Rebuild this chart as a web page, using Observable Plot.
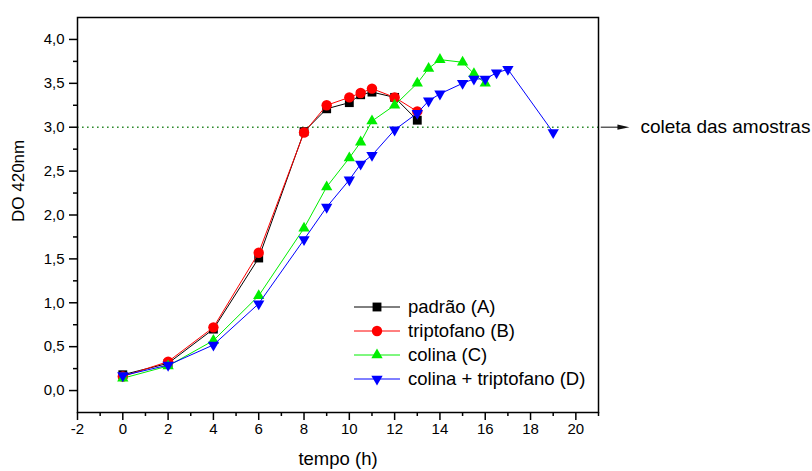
<!DOCTYPE html>
<html>
<head>
<meta charset="utf-8">
<script src="https://cdn.jsdelivr.net/npm/d3@7"></script>
<script src="https://cdn.jsdelivr.net/npm/@observablehq/plot@0.6"></script>
<style>
  html, body { margin: 0; padding: 0; background: #fff; }
  #chart { position: relative; width: 812px; height: 471px; }
</style>
</head>
<body>
<div id="chart"></div>
<script>
// ---- data ----
const seriesNames = ["padrão (A)", "triptofano (B)", "colina (C)", "colina + triptofano (D)"];
const seriesColors = ["#000000", "#ff0000", "#00ee00", "#0000ff"];

const tA = [0, 2, 4, 6, 8, 9, 10, 10.5, 11, 12, 13];
const vA = [0.18, 0.31, 0.70, 1.51, 2.95, 3.21, 3.28, 3.37, 3.40, 3.34, 3.08];

const tB = [0, 2, 4, 6, 8, 9, 10, 10.5, 11, 12, 13];
const vB = [0.16, 0.33, 0.72, 1.57, 2.94, 3.25, 3.34, 3.39, 3.44, 3.34, 3.18];

const tC = [0, 2, 4, 6, 8, 9, 10, 10.5, 11, 12, 13, 13.5, 14, 15, 15.5, 16];
const vC = [0.14, 0.28, 0.57, 1.08, 1.85, 2.32, 2.65, 2.83, 3.07, 3.25, 3.50, 3.67, 3.77, 3.74, 3.61, 3.50];

const tD = [0, 2, 4, 6, 8, 9, 10, 10.5, 11, 12, 13, 13.5, 14, 15, 15.5, 16, 16.5, 17, 19];
const vD = [0.17, 0.29, 0.52, 0.99, 1.72, 2.09, 2.40, 2.58, 2.68, 2.97, 3.16, 3.30, 3.38, 3.50, 3.55, 3.55, 3.62, 3.66, 2.94];

const xDomain = [-2, 21];
const yDomain = [-0.25, 4.25];
const xMajorTicks = [-2, 0, 2, 4, 6, 8, 10, 12, 14, 16, 18, 20];
const xMinorTicks = [-1, 1, 3, 5, 7, 9, 11, 13, 15, 17, 19, 21];
const yMajorTicks = [0, 0.5, 1, 1.5, 2, 2.5, 3, 3.5, 4];
const yMinorTicks = [0.25, 0.75, 1.25, 1.75, 2.25, 2.75, 3.25, 3.75];

const xLabel = "tempo (h)";
const yLabel = "DO 420nm";
const annotY = [3.0];
const annotLabel = ["coleta das amostras"];
const annotArrowX = [21.1, 22.1];   // arrow start / head (x units, outside the frame)
const annotTextX = [22.85];

// ---- symbols ----
const triDown = {
  draw(ctx, size) {
    const y = -Math.sqrt(size / (Math.sqrt(3) * 3));
    ctx.moveTo(0, -2 * y);
    ctx.lineTo(-Math.sqrt(3) * y, y);
    ctx.lineTo(Math.sqrt(3) * y, y);
    ctx.closePath();
  }
};
const triRight = {
  draw(ctx, size) {
    ctx.moveTo(6, 0);
    ctx.lineTo(-6, -2.6);
    ctx.lineTo(-6, 2.6);
    ctx.closePath();
  }
};
const symbols = [d3.symbolSquare, d3.symbolCircle, d3.symbolTriangle, triDown];
const radii = [5.0, 5.2, 4.2, 4.2];

const times = [tA, tB, tC, tD];
const vals = [vA, vB, vC, vD];
const series = seriesNames.map((name, i) => ({
  name, color: seriesColors[i], symbol: symbols[i], r: radii[i],
  data: times[i].map((t, j) => ({t, v: vals[i][j]}))
}));

const font = "'Liberation Sans', Arial, Helvetica, sans-serif";
const fmtY = d => d3.format(".1f")(d).replace(".", ",");

const plot = Plot.plot({
  width: 812,
  height: 471,
  marginLeft: 77,
  marginRight: 214,
  marginTop: 17,
  marginBottom: 59,
  style: {fontFamily: font, background: "white", color: "black"},
  x: {domain: xDomain},
  y: {domain: yDomain},
  marks: [
    Plot.ruleY(annotY, {stroke: "#2e8b2e", strokeWidth: 1.6, strokeDasharray: "1.6,3.4"}),
    ...series.flatMap(s => [
      Plot.line(s.data, {x: "t", y: "v", stroke: s.color, strokeWidth: 1}),
      Plot.dot(s.data, {x: "t", y: "v", symbol: s.symbol, r: s.r, fill: s.color, stroke: "none"})
    ]),
    Plot.frame({stroke: "black", strokeWidth: 1.5}),
    Plot.axisX({ticks: xMajorTicks, tickSize: 8, tickPadding: 3, strokeWidth: 1.5,
      tickFormat: d => String(d), fontSize: 15, label: null}),
    Plot.axisX({ticks: xMinorTicks, tickSize: 4, strokeWidth: 1.5, tickFormat: () => "", label: null}),
    Plot.axisY({ticks: yMajorTicks, tickSize: 8, tickPadding: 5, strokeWidth: 1.5,
      tickFormat: fmtY, fontSize: 15, label: null}),
    Plot.axisY({ticks: yMinorTicks, tickSize: 4, strokeWidth: 1.5, tickFormat: () => "", label: null}),
    Plot.text([xLabel], {text: d => d, frameAnchor: "bottom", dy: 47, fontSize: 18.5, lineAnchor: "middle"}),
    Plot.text([yLabel], {text: d => d, frameAnchor: "left", rotate: -90, dx: -59, dy: 7, fontSize: 17, lineAnchor: "middle"}),
    // annotation arrow + label
    Plot.link(annotY, {x1: annotArrowX[0], x2: annotArrowX[1], y1: d => d, y2: d => d, stroke: "#444", strokeWidth: 1.3}),
    Plot.dot(annotY, {x: annotArrowX[1], y: d => d, symbol: triRight, r: 3, fill: "#111", stroke: "none"}),
    Plot.text(annotLabel, {text: d => d, x: annotTextX[0], y: annotY[0], textAnchor: "start", fontSize: 19, lineAnchor: "middle"})
  ]
});

document.getElementById("chart").appendChild(plot);

// ---- legend (inside the plot frame, drawn into the same SVG) ----
const svg = d3.select(plot);
const lg = svg.append("g")
  .style("font-family", font)
  .style("font-size", "18.5px")
  .attr("text-anchor", "start");
const legendX0 = 354, legendX1 = 400, legendTextX = 408, legendY0 = 307, legendStep = 24;
series.forEach((s, i) => {
  const y = legendY0 + i * legendStep;
  lg.append("line").attr("x1", legendX0).attr("x2", legendX1).attr("y1", y).attr("y2", y)
    .attr("stroke", s.color).attr("stroke-width", 1);
  lg.append("path")
    .attr("transform", `translate(${(legendX0 + legendX1) / 2},${y})`)
    .attr("d", d3.symbol(s.symbol, Math.PI * s.r * s.r)())
    .attr("fill", s.color)
    .attr("stroke", "none");
  lg.append("text")
    .attr("x", legendTextX).attr("y", y).attr("dy", "0.35em")
    .attr("fill", "black")
    .style("text-anchor", "start")
    .style("font-size", "18.5px")
    .text(s.name);
});
</script>
</body>
</html>
